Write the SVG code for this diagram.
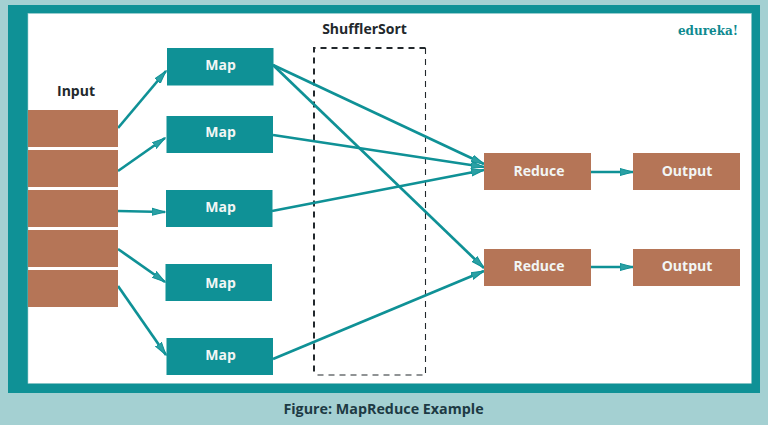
<svg xmlns="http://www.w3.org/2000/svg" width="768" height="425" viewBox="0 0 768 425">
<style>
text{font-family:"Open Sans","Noto Sans","Liberation Sans",sans-serif;font-weight:700;text-anchor:middle}
.t{fill:#0f9196}.b{fill:#b57557}
.l{font-size:14px;fill:#f2f6f5}
.h{font-size:14px;fill:#22282c}
.c{fill:none;stroke:#0f9196;stroke-width:2.700;marker-end:url(#a)}
.d{fill:none;stroke:#22282c;stroke-dasharray:6 5}
</style>
<defs>
<marker id="a" markerUnits="userSpaceOnUse" markerWidth="14" markerHeight="10" refX="13" refY="5" orient="auto">
<path d="M0 1.500L13 5L0 8.500Z" fill="#2aa0a4" stroke="#0f9196" stroke-width="1"/>
</marker>
</defs>
<rect width="768" height="425" fill="#a4d0d2"/>
<rect x="8" y="5" width="752" height="388" class="t"/>
<rect x="28" y="13.500" width="723.300" height="369.800" fill="#fff" stroke="#a4d0d2" stroke-width=".6"/>
<text x="364.500" y="34" class="h">ShufflerSort</text>
<text x="76" y="96" class="h">Input</text>
<text x="708" y="35" style="font-family:'DejaVu Serif',serif;font-size:12px;fill:#0f8a90">edureka!</text>
<path class="d" stroke-width="2" d="M425.500 48H314V375"/>
<path class="d" stroke-width="1.100" d="M425.500 48V375H314"/>
<g id="connectors">
<path class="c" d="M118 128L166 71"/>
<path class="c" d="M118 171L165 138"/>
<path class="c" d="M118 211L165 212"/>
<path class="c" d="M118 249L165 282"/>
<path class="c" d="M118 286L166 355"/>
<path class="c" d="M273 65L484 164"/>
<path class="c" d="M273 65L484 268"/>
<path class="c" d="M273 135L484 167"/>
<path class="c" d="M272 211L484 170"/>
<path class="c" d="M273 359L484 271"/>
<path class="c" d="M591 172L633 172"/>
<path class="c" d="M591 267L633 267"/>
</g>
<g id="input1"><rect x="28" y="110" width="90" height="37" class="b"/></g>
<g id="input2"><rect x="28" y="150" width="90" height="37" class="b"/></g>
<g id="input3"><rect x="28" y="190" width="90" height="37" class="b"/></g>
<g id="input4"><rect x="28" y="230" width="90" height="37" class="b"/></g>
<g id="input5"><rect x="28" y="270" width="90" height="37" class="b"/></g>
<g id="map1"><rect x="167" y="48" width="106.500" height="37.500" class="t"/><text x="220.500" y="70" class="l">Map</text></g>
<g id="map2"><rect x="166.500" y="116" width="106.500" height="37" class="t"/><text x="220.500" y="137" class="l">Map</text></g>
<g id="map3"><rect x="166" y="190" width="106.500" height="37" class="t"/><text x="220.500" y="212" class="l">Map</text></g>
<g id="map4"><rect x="165.500" y="264" width="106.500" height="37" class="t"/><text x="220.500" y="288" class="l">Map</text></g>
<g id="map5"><rect x="166.500" y="338" width="106.500" height="37" class="t"/><text x="220.500" y="360" class="l">Map</text></g>
<g id="reduce1"><rect x="484" y="153" width="107" height="37" class="b"/><text x="539" y="176" class="l">Reduce</text></g>
<g id="reduce2"><rect x="484" y="249" width="107" height="37" class="b"/><text x="539" y="271" class="l">Reduce</text></g>
<g id="output1"><rect x="633" y="153" width="107" height="37" class="b"/><text x="687" y="176" class="l">Output</text></g>
<g id="output2"><rect x="633" y="249" width="107" height="37" class="b"/><text x="687" y="271" class="l">Output</text></g>
<text x="383.500" y="414" style="font-size:14.300px;fill:#1d3a44">Figure: MapReduce Example</text>
</svg>
